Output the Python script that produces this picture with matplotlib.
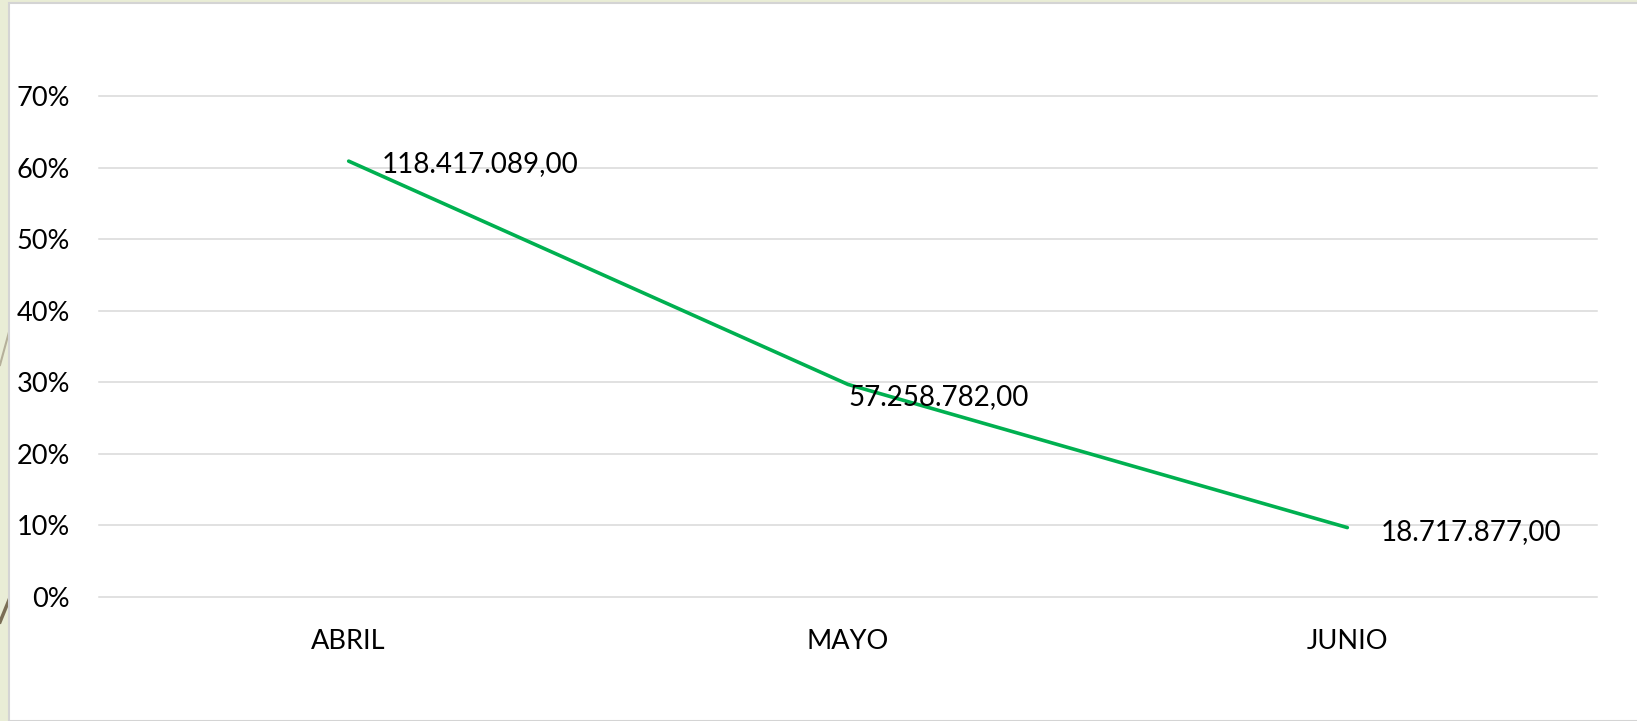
import matplotlib.pyplot as plt
from matplotlib.lines import Line2D
from matplotlib.patches import Rectangle
from matplotlib.ticker import PercentFormatter

plt.rcParams['font.family'] = ['Lato', 'DejaVu Sans']

# data
meses = ["ABRIL", "MAYO", "JUNIO"]
porcentaje = [0.609, 0.297, 0.097]
etiquetas = ["118.417.089,00", "57.258.782,00", "18.717.877,00"]
yticks = [0, 0.1, 0.2, 0.3, 0.4, 0.5, 0.6, 0.7]

W, H = 1637, 721
fig = plt.figure(figsize=(W / 100, H / 100), dpi=100)
fig.patch.set_facecolor("#E9EDD6")

# white chart area with a thin grey border (slide frame), behind the axes
fig.add_artist(Rectangle((9 / W, 0), 1, 1 - 3 / H, transform=fig.transFigure,
                         facecolor="white", edgecolor="#D4D4D4", linewidth=1.5,
                         zorder=-5))
# decorative strokes from the slide background at the left edge
fig.add_artist(Line2D([0, 9 / W], [1 - 365 / H, 1 - 332 / H], transform=fig.transFigure,
                      color="#B5B09A", linewidth=1.5, zorder=-6))
fig.add_artist(Line2D([0, 9 / W], [1 - 622 / H, 1 - 600 / H], transform=fig.transFigure,
                      color="#7A6E55", linewidth=2.5, zorder=-6))

ax = fig.add_axes([99 / W, 1 - 597 / H, (1597 - 99) / W, (597 - 96) / H])
ax.set_facecolor("none")

x = range(len(meses))
ax.plot(x, porcentaje, color="#00B050", linewidth=2.6, solid_capstyle="round")

# label offsets in pixels (right, up)
offsets = [(33, -3), (0, -13), (33, -4)]
for i, (v, txt) in enumerate(zip(porcentaje, etiquetas)):
    dx, dy = offsets[i]
    ax.annotate(txt, (i, v), xytext=(dx * 0.72, dy * 0.72), textcoords="offset points",
                ha="left", va="center", fontsize=20, color="#000000")

ax.set_xlim(-0.5, len(meses) - 0.5)
ax.set_ylim(0, 0.7)
ax.set_yticks(yticks)
ax.yaxis.set_major_formatter(PercentFormatter(1.0, decimals=0))
ax.set_xticks(list(x))
ax.set_xticklabels(meses)
ax.grid(axis="y", color="#D9D9D9", linewidth=1.1)
for gl in ax.get_ygridlines():
    gl.set_clip_on(False)
ax.set_axisbelow(True)
ax.tick_params(axis="both", length=0, labelsize=19.5, colors="#000000")
ax.tick_params(axis="y", pad=21)
ax.tick_params(axis="x", pad=23)
for s in ax.spines.values():
    s.set_visible(False)

fig.savefig("out.png", dpi=100, facecolor=fig.get_facecolor())
